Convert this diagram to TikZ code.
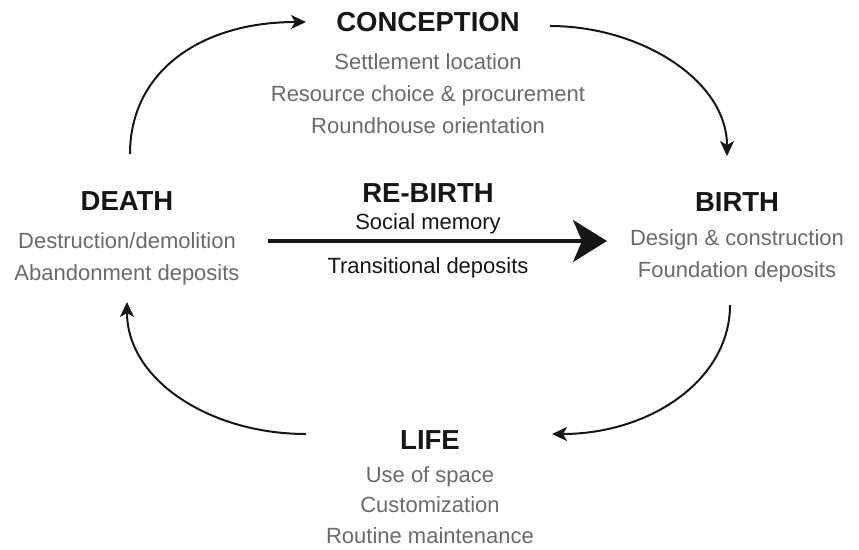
\documentclass[tikz,border=0pt]{standalone}
\usepackage{fontspec}
\setmainfont{Liberation Sans}
\usetikzlibrary{arrows.meta}
\definecolor{ttl}{HTML}{161616}
\definecolor{sub}{HTML}{6A6A6A}
\tikzset{
  title/.style={text=ttl,font=\fontsize{27.5}{30}\selectfont\bfseries,inner sep=0pt},
  items/.style={text=sub,font=\fontsize{22}{32}\selectfont,align=center,inner sep=0pt},
  lifeitems/.style={items,font=\fontsize{22}{30.5}\selectfont},
  blackitems/.style={text=ttl,font=\fontsize{22}{32}\selectfont,align=center,inner sep=0pt},
  cyc/.style={line width=2pt,draw=ttl,-{Stealth[length=15pt,width=14pt,inset=4pt]}},
  big/.style={line width=3.2pt,draw=ttl,-{Stealth[length=34pt,width=42pt,inset=9pt]}}
}
\begin{document}
\begin{tikzpicture}[x=1pt,y=-1pt]
\useasboundingbox (0,0) rectangle (859,549);
% Conception
\node[title] (concT) at (428,22) {CONCEPTION};
\node[items] (concL) at (428,94) {Settlement location\\Resource choice \& procurement\\Roundhouse orientation};
% Death
\node[title] (deathT) at (127,201) {DEATH};
\node[items] (deathL) at (127,259) {Destruction/demolition\\Abandonment deposits};
% Re-birth
\node[title] (rebT) at (428,193) {RE-BIRTH};
\node[blackitems] (rebA) at (428,224) {Social memory};
\node[blackitems] (rebB) at (428,268) {Transitional deposits};
% Birth
\node[title] (birthT) at (737,202) {BIRTH};
\node[items] (birthL) at (737,256) {Design \& construction\\Foundation deposits};
% Life
\node[title] (lifeT) at (430,440) {LIFE};
\node[lifeitems] (lifeL) at (430,505) {Use of space\\Customization\\Routine maintenance};
% connector endpoints
\coordinate (d1) at (130,154);
\coordinate (c1) at (306,22);
\coordinate (c2) at (550,26);
\coordinate (b1) at (727,156);
\coordinate (b2) at (730,305);
\coordinate (l1) at (552,434);
\coordinate (l2) at (306,434);
\coordinate (d2) at (127,302);
\coordinate (rs) at (268,241);
\coordinate (re) at (607,241);
% cycle arrows
\draw[cyc] (d1) .. controls (130,72) and (200,22) .. (c1);
\draw[cyc] (c2) .. controls (640,26) and (727,80) .. (b1);
\draw[cyc] (b2) .. controls (730,380) and (650,434) .. (l1);
\draw[cyc] (l2) .. controls (210,434) and (127,380) .. (d2);
% re-birth arrow
\draw[big] (rs) -- (re);
\end{tikzpicture}
\end{document}
